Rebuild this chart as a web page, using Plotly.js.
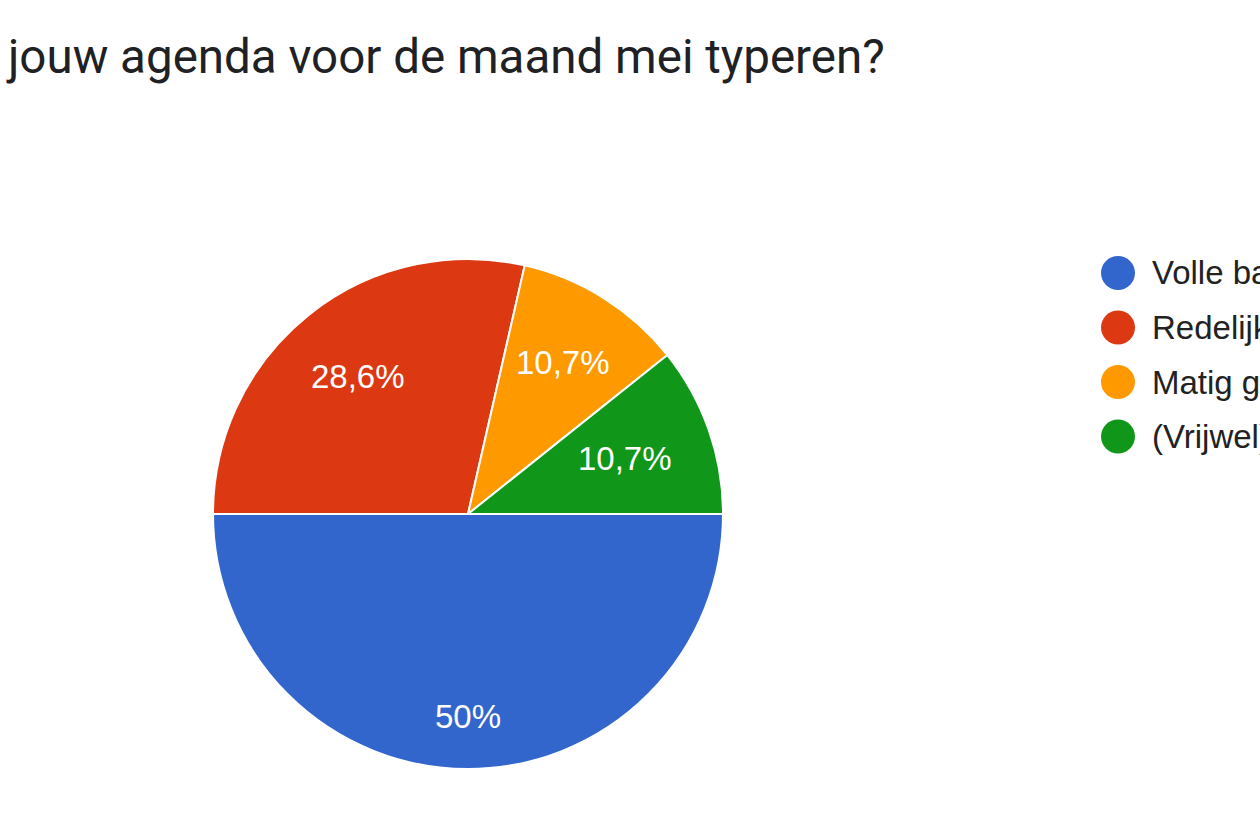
<!DOCTYPE html>
<html>
<head>
<meta charset="utf-8">
<script src="https://cdn.plot.ly/plotly-3.0.1.min.js"></script>
<style>
html,body{margin:0;padding:0;background:#fff;}
#chart{width:1260px;height:840px;}
</style>
</head>
<body>
<div id="chart"></div>
<script>
// Data
var titleText = "jouw agenda voor de maand mei typeren?";
var categories = ["Volle bak", "Redelijk gevuld", "Matig gevuld", "(Vrijwel) leeg"];
var counts = [14, 8, 3, 3];
var sliceColors = ["#3366cc", "#dc3912", "#ff9900", "#109618"];

var W = 1260, H = 840;
var cx = 468, cy = 514, R = 255;
var startAngle = 90;
var labelFont = {family: "Arial, 'Liberation Sans', sans-serif", size: 33, color: "#ffffff"};

var pie = {
  type: "pie",
  labels: categories,
  values: counts,
  sort: false,
  direction: "clockwise",
  rotation: startAngle,
  marker: {colors: sliceColors, line: {color: "#ffffff", width: 2}},
  textinfo: "none",
  hoverinfo: "label+percent",
  showlegend: false,
  domain: {x: [(cx - R) / W, (cx + R) / W], y: [(H - cy - R) / H, (H - cy + R) / H]}
};

var shapes = [];
var annotations = [];

// Percent labels placed inside each slice (Google-chart style), derived from the values
var total = counts.reduce(function (a, b) { return a + b; }, 0);
var ctx = document.createElement("canvas").getContext("2d");
ctx.font = labelFont.size + "px Arial, 'Liberation Sans', sans-serif";
var fmt = function (p) {
  var s = (Math.round(p * 1000) / 10).toString();
  return s.replace(".", ",") + "%";
};
var cum = 0;
counts.forEach(function (v, i) {
  var frac = v / total;
  var mid = (startAngle + (cum + frac / 2) * 360) * Math.PI / 180;
  cum += frac;
  var dx = Math.sin(mid), dy = -Math.cos(mid);
  var txt = fmt(frac);
  var hw = ctx.measureText(txt).width / 2, hh = 12.5;
  var d = 0.843 * R - (hw * Math.abs(dx) + hh * Math.abs(dy));
  var px = cx + d * dx, py = cy + d * dy;
  annotations.push({
    xref: "paper", yref: "paper", x: px / W, y: (H - py) / H,
    xanchor: "center", yanchor: "middle", showarrow: false,
    text: txt, font: labelFont
  });
});

// Legend with round markers
var legX = 1118, legTextX = 1150, legY0 = 273, legDy = 54.5, legR = 17;
categories.forEach(function (c, i) {
  var yy = (H - (legY0 + i * legDy)) / H;
  shapes.push({
    type: "circle", xref: "paper", yref: "paper",
    xsizemode: "pixel", ysizemode: "pixel",
    xanchor: legX / W, yanchor: yy,
    x0: -legR, x1: legR, y0: -legR, y1: legR,
    fillcolor: sliceColors[i], line: {width: 0}
  });
  annotations.push({
    xref: "paper", yref: "paper", x: legTextX / W, y: yy,
    xanchor: "left", yanchor: "middle", showarrow: false,
    text: c,
    font: {family: "Arial, 'Liberation Sans', sans-serif", size: 33, color: "#222222"}
  });
});

var layout = {
  width: W, height: H,
  margin: {l: 0, r: 0, t: 0, b: 0, autoexpand: false},
  paper_bgcolor: "#ffffff",
  showlegend: false,
  title: {
    text: titleText,
    x: 8 / W, xref: "paper", xanchor: "left",
    y: 1 - 56 / H, yref: "container", yanchor: "middle",
    font: {family: "Roboto, 'Open Sans', sans-serif", size: 47.5, color: "#202124"}
  },
  shapes: shapes,
  annotations: annotations
};

Plotly.newPlot("chart", [pie], layout, {displayModeBar: false, staticPlot: true});
</script>
</body>
</html>
